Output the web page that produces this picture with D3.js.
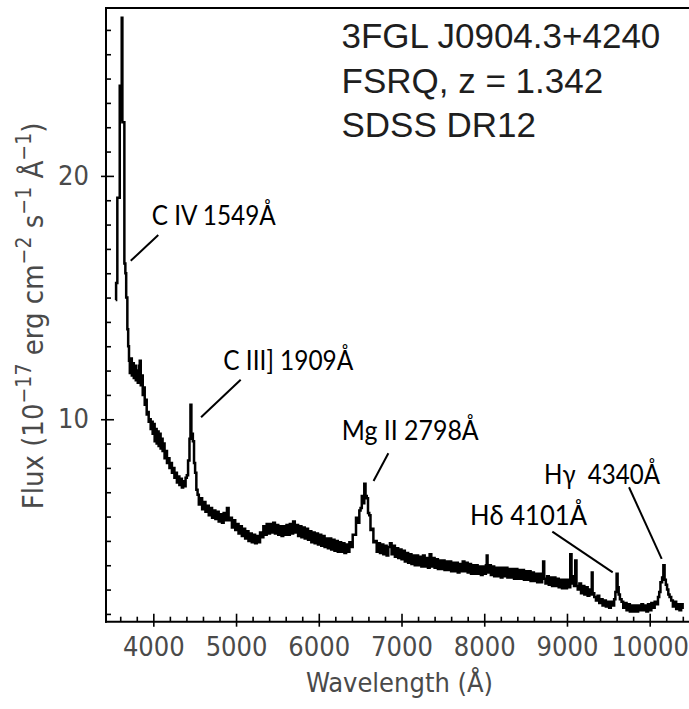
<!DOCTYPE html>
<html><head><meta charset="utf-8">
<script src="https://cdn.jsdelivr.net/npm/d3@7"></script>
<style>
html,body{margin:0;padding:0;background:#fff;}
svg{display:block;}
.tick text{font-family:"DejaVu Sans Condensed","DejaVu Sans",sans-serif;font-stretch:condensed;font-size:27px;fill:#4a4a4a;}
</style></head>
<body>
<svg id="chart" width="689" height="709"></svg>
<script>
// ---- data ----
const spectrum = [
[3545,14.9],[3550,15.6],[3565,19.1],[3594,23.7],[3602,22.3],[3618,26.5],[3626,22.2],[3650,16.4],[3662,16.0],[3672,15.0],[3686,13.7],[3696,13.0],
[3706,12.4],[3716,11.9],[3728,12.5],[3740,11.8],[3752,12.3],[3764,11.7],[3776,12.2],[3788,11.6],[3800,12.0],[3812,11.5],[3824,12.2],[3836,12.4],[3848,11.4],[3860,11.8],[3872,11.0],[3884,11.3],[3896,10.6],[3908,10.8],[3920,10.2],[3932,10.3],[3944,9.9],[3956,10.0],
[3968,9.6],[3980,9.9],[3992,9.4],[4004,9.8],[4016,9.1],[4028,9.6],[4040,9.0],[4052,9.5],[4064,8.9],[4076,9.4],[4088,8.8],[4100,9.2],[4112,8.7],[4124,9.0],[4136,8.4],[4150,8.7],[4165,8.2],[4180,8.4],[4195,8.0],[4210,8.2],[4225,7.8],[4240,8.0],[4255,7.6],[4270,7.8],[4285,7.4],[4300,7.65],[4315,7.3],[4330,7.55],[4345,7.2],[4360,7.45],[4375,7.25],[4390,7.6],[4405,7.7],
[4420,8.3],[4437,9.2],[4449,10.6],[4460,9.4],[4478,9.1],[4492,8.2],[4505,7.8],[4520,7.1],[4535,6.9],[4550,6.5],
[4570,6.75],[4590,6.3],[4610,6.6],[4630,6.2],[4650,6.45],[4670,6.05],[4690,6.35],[4710,5.95],[4730,6.25],[4750,5.9],[4770,6.2],[4790,5.8],[4810,6.1],[4830,5.75],[4850,6.15],[4870,5.85],[4890,6.35],[4910,5.85],[4930,5.95],[4950,5.55],[4970,5.85],[4990,5.45],
[5010,5.7],[5030,5.3],[5050,5.6],[5070,5.2],[5090,5.5],[5110,5.1],[5130,5.4],[5150,5.0],[5170,5.3],[5190,4.95],[5210,5.25],[5230,4.9],[5250,5.2],[5270,4.95],[5290,5.35],
[5310,5.15],[5330,5.6],[5350,5.25],[5370,5.7],[5390,5.3],[5410,5.7],[5430,5.35],[5450,5.75],[5470,5.3],[5490,5.65],[5510,5.25],[5530,5.6],[5550,5.2],[5570,5.6],[5590,5.25],[5610,5.65],[5630,5.25],[5650,5.7],[5670,5.3],[5690,5.8],[5710,5.35],[5730,5.65],[5750,5.2],[5770,5.6],[5790,5.15],[5810,5.55],[5830,5.1],[5850,5.5],
[5870,5.05],[5890,5.4],[5910,4.95],[5930,5.35],[5950,4.9],[5970,5.3],[5990,4.85],[6010,5.25],[6030,4.8],[6050,5.2],[6070,4.75],[6090,5.1],[6110,4.7],[6130,5.1],[6150,4.65],[6170,5.05],[6190,4.6],[6210,5.0],[6230,4.55],[6250,4.95],[6270,4.55],[6290,4.9],[6310,4.5],[6330,4.85],[6350,4.55],[6370,4.95],[6390,4.75],[6410,5.25],
[6430,5.25],[6450,5.95],[6470,5.75],[6490,6.25],[6505,6.35],[6520,6.85],[6535,6.55],[6550,7.35],[6565,6.85],[6580,6.75],[6595,6.15],[6610,6.05],[6625,5.45],[6640,5.5],[6660,4.95],[6680,5.0],[6700,4.55],
[6720,4.9],[6740,4.5],[6760,4.85],[6780,4.45],[6800,4.8],[6820,4.4],[6840,4.75],[6860,4.9],[6880,4.45],[6900,4.8],[6920,4.35],[6940,4.7],[6960,4.3],[6980,4.65],[7000,4.25],[7020,4.6],[7040,4.15],[7060,4.5],[7080,4.1],[7100,4.45],[7120,4.05],[7140,4.4],
[7160,4.0],[7180,4.4],[7200,4.0],[7220,4.35],[7240,3.95],[7260,4.4],[7280,3.95],[7300,4.3],[7320,3.9],[7340,4.45],[7360,3.95],[7380,4.3],[7400,3.9],[7420,4.25],[7440,3.85],[7460,4.2],[7480,3.85],[7500,4.2],[7520,3.8],[7540,4.15],[7560,3.8],[7580,4.15],[7600,3.75],[7620,4.1],
[7640,3.75],[7660,4.1],[7680,3.7],[7700,4.05],[7720,3.75],[7740,4.15],[7760,3.75],[7780,4.1],[7800,3.7],[7820,4.05],[7840,3.65],[7860,4.0],[7880,3.65],[7900,4.0],[7920,3.65],[7940,3.95],[7960,3.6],[7980,3.95],
[8000,3.65],[8020,4.0],[8030,4.4],[8040,3.7],[8060,4.0],[8080,3.6],[8100,3.95],[8120,3.55],[8140,3.9],[8160,3.55],[8180,3.9],[8200,3.5],[8220,3.9],[8240,3.55],[8260,3.9],[8280,3.5],[8300,3.85],[8320,3.5],[8340,3.85],[8360,3.45],[8380,3.85],[8400,3.45],[8420,3.8],[8440,3.45],[8460,3.8],
[8480,3.4],[8500,3.75],[8520,3.4],[8540,3.75],[8560,3.35],[8580,3.7],[8600,3.35],[8620,3.65],[8640,3.3],[8660,3.65],[8680,3.3],[8700,3.65],[8712,4.15],[8725,3.45],
[8740,3.25],[8760,3.55],[8780,3.2],[8800,3.5],[8820,3.15],[8840,3.5],[8860,3.15],[8880,3.45],[8900,3.1],[8920,3.4],[8940,3.05],[8960,3.4],[8980,3.05],[9000,3.4],[9020,3.1],[9040,4.45],[9055,3.25],[9070,3.55],[9085,3.15],[9100,4.2],[9115,3.15],[9130,3.0],
[9150,3.25],[9170,2.85],[9190,3.15],[9210,2.8],[9230,3.1],[9250,2.75],[9270,3.0],[9290,2.8],[9300,3.7],[9310,2.85],[9330,2.7],[9350,2.55],[9370,2.75],[9390,2.45],[9410,2.6],[9430,2.35],[9450,2.55],[9470,2.3],[9490,2.5],[9510,2.25],[9530,2.5],[9550,2.35],
[9570,2.6],[9585,2.9],[9600,3.65],[9612,3.1],[9625,2.8],[9640,2.6],[9660,2.5],
[9680,2.25],[9700,2.45],[9720,2.15],[9740,2.4],[9760,2.1],[9780,2.35],[9800,2.1],[9820,2.35],[9840,2.1],[9860,2.35],[9880,2.15],[9900,2.4],[9920,2.15],[9940,2.35],[9960,2.1],[9980,2.4],[10000,2.15],[10020,2.45],[10040,2.25],[10060,2.5],[10080,2.4],
[10100,2.7],[10115,2.9],[10130,3.3],[10150,3.5],[10165,4.0],[10180,3.4],[10195,3.2],[10210,3.0],[10225,2.8],[10240,2.7],[10260,2.55],[10280,2.3],[10300,2.5],[10320,2.2],[10340,2.4],[10360,2.15],[10380,2.4],[10398,2.2]
];
const xMajorTicks = [4000,5000,6000,7000,8000,9000,10000];
const xMinorTicks = [3600,3800,4200,4400,4600,4800,5200,5400,5600,5800,6200,6400,6600,6800,7200,7400,7600,7800,8200,8400,8600,8800,9200,9400,9600,9800,10200,10400,10600];
const yMajorTicks = [10,20];
const yMinorTicks = [2,3,4,5,6,7,8,9,11,12,13,14,15,16,17,18,19,21,22,23,24,25,26];
const titleLines = ["3FGL J0904.3+4240","FSRQ, z = 1.342","SDSS DR12"];
// line annotations: label, label anchor (wavelength, flux), leader line start/end (wavelength, flux)
const lineLabels = ["C IV 1549Å","C III] 1909Å","Mg II 2798Å","Hδ 4101Å","Hγ  4340Å"];
const labelPos   = [[3981,17.99],[4846,12.03],[6277,9.15],[7828,5.66],[8723,7.34]];
const leaderFrom = [[4060,17.57],[5056,11.62],[6841,8.60],[8823,5.38],[9750,7.205]];
const leaderTo   = [[3727,16.51],[4577,10.08],[6662,7.46],[9553,3.71],[10145,4.26]];
const labelWidth = [124,130,137,117,116];

(function(){
const svg = d3.select("#chart");
const pLeft = 106, pRight = 700, pTop = 8, pBottom = 621.7;
const x = d3.scaleLinear().domain([3428, 10608]).range([pLeft, pRight]);
const y = d3.scaleLinear().domain([1.68, 26.9]).range([pBottom, pTop]);

svg.append("clipPath").attr("id","plotclip").append("rect")
  .attr("x", pLeft).attr("y", pTop).attr("width", pRight-pLeft).attr("height", pBottom-pTop);

// spectrum
const line = d3.line().x(d => x(d[0])).y(d => y(d[1])).curve(d3.curveStepAfter);
svg.append("path").datum(spectrum)
  .attr("clip-path","url(#plotclip)")
  .attr("d", line).attr("fill","none").attr("stroke","#000")
  .attr("stroke-width",2.5).attr("stroke-linejoin","miter");

// axes
const gx = svg.append("g").attr("transform",`translate(0,${pBottom})`);
gx.append("g").call(d3.axisBottom(x).tickValues(xMinorTicks).tickSize(-5).tickFormat(""));
gx.append("g").call(d3.axisBottom(x).tickValues(xMajorTicks).tickSize(-8).tickFormat(""));
gx.append("g").call(d3.axisBottom(x).tickValues(xMajorTicks).tickSize(5).tickPadding(10).tickFormat(d3.format("d")));
const gy = svg.append("g").attr("transform",`translate(${pLeft},0)`);
gy.append("g").call(d3.axisLeft(y).tickValues(yMinorTicks).tickSize(-5).tickFormat(""));
gy.append("g").call(d3.axisLeft(y).tickValues(yMajorTicks).tickSize(-8).tickFormat(""));
gy.append("g").call(d3.axisLeft(y).tickValues(yMajorTicks).tickSize(5).tickPadding(12).tickFormat(d3.format("d")));
svg.selectAll(".domain").remove();
svg.selectAll(".tick line").attr("stroke","#000").attr("stroke-width",1.6);
svg.selectAll(".tick text").attr("font-family",null).attr("font-size",null);

// frame
const frame = svg.append("g").attr("stroke","#000").attr("stroke-width",2).attr("fill","none");
frame.append("line").attr("x1",pLeft).attr("x2",pLeft).attr("y1",pTop).attr("y2",pBottom+1);
frame.append("line").attr("x1",pLeft-1).attr("x2",689).attr("y1",pBottom).attr("y2",pBottom);
frame.append("line").attr("x1",pLeft-1).attr("x2",689).attr("y1",pTop).attr("y2",pTop);

// axis labels
svg.append("text").attr("x",399.5).attr("y",692).attr("text-anchor","middle")
  .style("font-family",'"DejaVu Sans Condensed","DejaVu Sans",sans-serif').style("font-stretch","condensed")
  .style("font-size","27px").style("fill","#4a4a4a").text("Wavelength (Å)");

const yl = svg.append("text").attr("transform","translate(43,316) rotate(-90)").attr("text-anchor","middle")
  .style("font-family",'"DejaVu Sans Condensed","DejaVu Sans",sans-serif').style("font-stretch","condensed")
  .style("font-size","29px").style("fill","#4a4a4a");
const parts = [["Flux (10",0],["−17",1],[" erg cm",0],["−2",1],[" s",0],["−1",1],[" Å",0],["−1",1],[")",0]];
let prevSup = 0;
parts.forEach(([t,s]) => {
  const ts = yl.append("tspan").text(t);
  if (s) { ts.style("font-size","21px"); }
  const dy = (s - prevSup) * -12;
  if (dy) ts.attr("dy", dy);
  prevSup = s;
});

// title block
svg.append("g").selectAll("text").data(titleLines).join("text")
  .attr("x",341.5).attr("y",(d,i)=>48 + i*44.5)
  .style("font-family",'"Liberation Sans",Arial,sans-serif').style("font-size","35px").style("fill","#1e1e1e")
  .text(d=>d);

// line annotations
const ann = svg.append("g");
lineLabels.forEach((lab,i) => {
  ann.append("line")
    .attr("x1",x(leaderFrom[i][0])).attr("y1",y(leaderFrom[i][1]))
    .attr("x2",x(leaderTo[i][0])).attr("y2",y(leaderTo[i][1]))
    .attr("stroke","#000").attr("stroke-width",2);
  ann.append("text").attr("x",x(labelPos[i][0])).attr("y",y(labelPos[i][1]))
    .style("font-family","Lato,'Noto Sans',sans-serif").style("font-size","26px").style("fill","#000")
    .attr("textLength",labelWidth[i]).attr("lengthAdjust","spacingAndGlyphs")
    .style("white-space","pre")
    .text(lab);
});
})();
</script>
</body></html>
